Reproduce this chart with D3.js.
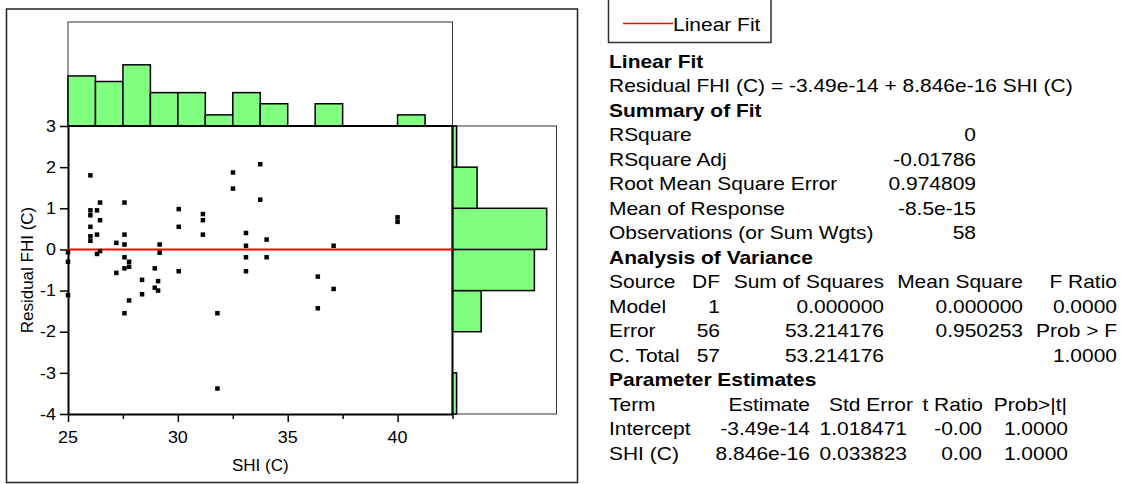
<!DOCTYPE html>
<html>
<head>
<meta charset="utf-8">
<script src="https://cdn.jsdelivr.net/npm/d3@7"></script>
<style>
  body { margin: 0; background: #fff; }
  text { font-family: "Liberation Sans", Arial, sans-serif; fill: #000; }
</style>
</head>
<body>
<div id="chart"></div>
<script>
// scatter data
const shiValues = [
  25.0, 25.0, 25.0,
  26.02, 26.02, 26.02, 26.02, 26.02, 26.02,
  26.32, 26.32, 26.32,
  26.46, 26.46, 26.46,
  27.2, 27.2,
  27.57, 27.57, 27.57, 27.57, 27.57, 27.57,
  27.78, 27.78, 27.78,
  28.37, 28.37,
  28.95, 28.95,
  29.1, 29.1,
  29.17, 29.17,
  30.04, 30.04, 30.04,
  31.14, 31.14, 31.14,
  31.8, 31.8,
  32.51, 32.51,
  33.1, 33.1, 33.1, 33.1,
  33.75, 33.75,
  34.04, 34.04,
  36.37, 36.37,
  37.09, 37.09,
  40.0, 40.0
];
const residualValues = [
  -0.07, -0.30, -1.11,
  1.80, 0.95, 0.83, 0.55, 0.32, 0.21,
  0.95, 0.36, -0.11,
  1.14, 0.71, -0.04,
  0.16, -0.57,
  1.14, 0.36, 0.12, -0.19, -0.46, -1.55,
  -0.30, -0.42, -1.24,
  -0.74, -1.09,
  -0.46, -0.93,
  -0.77, -1.00,
  0.12, -0.08,
  0.98, 0.55, -0.53,
  0.86, 0.71, 0.36,
  -1.55, -3.38,
  1.87, 1.48,
  0.40, 0.09, -0.19, -0.53,
  2.07, 1.21,
  0.24, -0.19,
  -0.66, -1.43,
  0.09, -0.96,
  0.78, 0.67
];

const xTicks = [25, 30, 35, 40];
const xMinorTicks = [27.5, 32.5, 37.5, 42.5];
const yTicks = [-4, -3, -2, -1, 0, 1, 2, 3];

// marginal histograms
const topBinEdges = [25, 26.25, 27.5, 28.75, 30, 31.25, 32.5, 33.75, 35, 36.25, 37.5, 38.75, 40, 41.25, 42.5];
const topCounts = [9, 8, 11, 6, 6, 2, 6, 4, 0, 4, 0, 0, 2, 0];
const rightBinEdges = [-4, -3, -2, -1, 0, 1, 2, 3];
const rightCounts = [1, 0, 7, 20, 23, 6, 1];

const fitIntercept = -3.49e-14;
const fitSlope = 8.846e-16;

// report text
const summaryLabels = ["RSquare", "RSquare Adj", "Root Mean Square Error", "Mean of Response", "Observations (or Sum Wgts)"];
const summaryValues = ["0", "-0.01786", "0.974809", "-8.5e-15", "58"];
const anovaHeader = ["Source", "DF", "Sum of Squares", "Mean Square", "F Ratio"];
const anovaRows = [
  ["Model", "1", "0.000000", "0.000000", "0.0000"],
  ["Error", "56", "53.214176", "0.950253", "Prob > F"],
  ["C. Total", "57", "53.214176", "", "1.0000"]
];
const paramHeader = ["Term", "Estimate", "Std Error", "t Ratio", "Prob>|t|"];
const paramRows = [
  ["Intercept", "-3.49e-14", "1.018471", "-0.00", "1.0000"],
  ["SHI (C)", "8.846e-16", "0.033823", "0.00", "1.0000"]
];

const width = 1121, height = 484;
const svg = d3.select("#chart").append("svg")
  .attr("width", width)
  .attr("height", height);

const x = d3.scaleLinear().domain([25, 42.5]).range([68, 452.5]);
const y = d3.scaleLinear().domain([-4, 3]).range([414, 126]);
const hTop = d3.scaleLinear().domain([0, 18.7]).range([0, 104]);
const wRight = d3.scaleLinear().domain([0, 25.4]).range([0, 104]);

function label(g, str, px, py, opts) {
  opts = opts || {};
  return g.append("text")
    .attr("transform", `translate(${px},${py}) scale(${opts.sx || 1},1)`)
    .attr("text-anchor", opts.anchor || "start")
    .style("font-size", (opts.size || 18) + "px")
    .style("font-weight", opts.bold ? "bold" : "normal")
    .text(str);
}

// outer frame
svg.append("rect")
  .attr("x", 6.5).attr("y", 9)
  .attr("width", 571).attr("height", 473.5)
  .attr("fill", "none").attr("stroke", "#222").attr("stroke-width", 1.5);

// top histogram
svg.append("rect")
  .attr("x", x(25)).attr("y", 22)
  .attr("width", x(42.5) - x(25)).attr("height", y(3) - 22)
  .attr("fill", "none").attr("stroke", "#333").attr("stroke-width", 1);

svg.selectAll(".topbar")
  .data(topCounts.map((c, i) => ({ c: c, x0: topBinEdges[i], x1: topBinEdges[i + 1] })).filter(d => d.c > 0))
  .join("rect")
  .attr("class", "topbar")
  .attr("x", d => x(d.x0))
  .attr("y", d => y(3) - hTop(d.c))
  .attr("width", d => x(d.x1) - x(d.x0))
  .attr("height", d => hTop(d.c))
  .attr("fill", "#80ff80")
  .attr("stroke", "#000")
  .attr("stroke-width", 1.5);

// right histogram
svg.append("rect")
  .attr("x", x(42.5)).attr("y", y(3))
  .attr("width", 104).attr("height", y(-4) - y(3))
  .attr("fill", "none").attr("stroke", "#333").attr("stroke-width", 1);

svg.selectAll(".rightbar")
  .data(rightCounts.map((c, i) => ({ c: c, y0: rightBinEdges[i], y1: rightBinEdges[i + 1] })).filter(d => d.c > 0))
  .join("rect")
  .attr("class", "rightbar")
  .attr("x", x(42.5))
  .attr("y", d => y(d.y1))
  .attr("width", d => wRight(d.c))
  .attr("height", d => y(d.y0) - y(d.y1))
  .attr("fill", "#80ff80")
  .attr("stroke", "#000")
  .attr("stroke-width", 1.5);

// axes
const yAxis = svg.append("g")
  .attr("transform", `translate(${x(25)},0)`)
  .call(d3.axisLeft(y).tickValues(yTicks).tickSize(8).tickSizeOuter(0).tickFormat(""));
const xAxis = svg.append("g")
  .attr("transform", `translate(0,${y(-4)})`)
  .call(d3.axisBottom(x).tickValues(xTicks).tickSize(8).tickSizeOuter(0).tickFormat(""));
const xMinor = svg.append("g")
  .attr("transform", `translate(0,${y(-4)})`)
  .call(d3.axisBottom(x).tickValues(xMinorTicks).tickSize(5).tickSizeOuter(0).tickFormat(""));
xMinor.select(".domain").remove();
[yAxis, xAxis, xMinor].forEach(function(a) {
  a.selectAll("line").attr("stroke", "#000").attr("stroke-width", 1.5);
  a.select(".domain").attr("stroke", "#000").attr("stroke-width", 2);
});

// top and right border of the plot
svg.append("line")
  .attr("x1", x(25)).attr("x2", x(42.5))
  .attr("y1", y(3)).attr("y2", y(3))
  .attr("stroke", "#000").attr("stroke-width", 2);
svg.append("line")
  .attr("x1", x(42.5)).attr("x2", x(42.5))
  .attr("y1", y(3)).attr("y2", y(-4))
  .attr("stroke", "#000").attr("stroke-width", 2);

// tick labels
xTicks.forEach(function(t) {
  label(svg, String(t), x(t), y(-4) + 28.5, { size: 16, sx: 1.12, anchor: "middle" });
});
yTicks.forEach(function(t) {
  label(svg, String(t), x(25) - 12, y(t) + 5.7, { size: 16, sx: 1.12, anchor: "end" });
});

// axis titles
label(svg, "SHI (C)", (x(25) + x(42.5)) / 2, 471, { size: 17, anchor: "middle" });
svg.append("text")
  .attr("transform", `translate(33,${(y(3) + y(-4)) / 2}) rotate(-90)`)
  .attr("text-anchor", "middle")
  .style("font-size", "17px")
  .text("Residual FHI (C)");

// fit line
svg.append("line")
  .attr("x1", x(25)).attr("x2", x(42.5))
  .attr("y1", y(fitIntercept + fitSlope * 25))
  .attr("y2", y(fitIntercept + fitSlope * 42.5))
  .attr("stroke", "#f00").attr("stroke-width", 2);

// points
svg.selectAll(".pt")
  .data(shiValues.map((v, i) => [v, residualValues[i]]))
  .join("rect")
  .attr("class", "pt")
  .attr("x", d => x(d[0]) - 2.25)
  .attr("y", d => y(d[1]) - 2.25)
  .attr("width", 4.5)
  .attr("height", 4.5)
  .attr("fill", "#000");

// legend
svg.append("rect")
  .attr("x", 608.5).attr("y", -2)
  .attr("width", 162.5).attr("height", 44.5)
  .attr("fill", "#fff").attr("stroke", "#333").attr("stroke-width", 1.5);
svg.append("line")
  .attr("x1", 623).attr("x2", 673)
  .attr("y1", 23.5).attr("y2", 23.5)
  .attr("stroke", "#f00").attr("stroke-width", 1.5);
label(svg, "Linear Fit", 673, 30.7, { size: 18, sx: 1.165 });

// report panel
const px = 609, row0 = 67.5, rowH = 24.5, sx = 1.165;
const rowY = r => row0 + r * rowH;

label(svg, "Linear Fit", px, rowY(0), { bold: true, sx: sx });
label(svg, "Residual FHI (C) = -3.49e-14 + 8.846e-16 SHI (C)", px, rowY(1), { sx: sx });
label(svg, "Summary of Fit", px, rowY(2), { bold: true, sx: sx });
summaryLabels.forEach(function(s, i) {
  label(svg, s, px, rowY(3 + i), { sx: sx });
  label(svg, summaryValues[i], 976, rowY(3 + i), { sx: sx, anchor: "end" });
});

label(svg, "Analysis of Variance", px, rowY(8), { bold: true, sx: sx });
const anovaRight = [null, 720, 884, 1023, 1117];
[anovaHeader].concat(anovaRows).forEach(function(row, r) {
  row.forEach(function(cell, c) {
    if (c === 0) label(svg, cell, px, rowY(9 + r), { sx: sx });
    else label(svg, cell, anovaRight[c], rowY(9 + r), { sx: sx, anchor: "end" });
  });
});

label(svg, "Parameter Estimates", px, rowY(13), { bold: true, sx: sx });
// header cells: [x, anchor]
const paramHeadPos = [null, [810, "end"], [871, "middle"], [983, "end"], [1067, "end"]];
const paramRight = [null, 810, 907, 982, 1068];
paramHeader.forEach(function(cell, c) {
  if (c === 0) label(svg, cell, px, rowY(14), { sx: sx });
  else label(svg, cell, paramHeadPos[c][0], rowY(14), { sx: sx, anchor: paramHeadPos[c][1] });
});
paramRows.forEach(function(row, r) {
  row.forEach(function(cell, c) {
    if (c === 0) label(svg, cell, px, rowY(15 + r), { sx: sx });
    else label(svg, cell, paramRight[c], rowY(15 + r), { sx: sx, anchor: "end" });
  });
});
</script>
</body>
</html>
